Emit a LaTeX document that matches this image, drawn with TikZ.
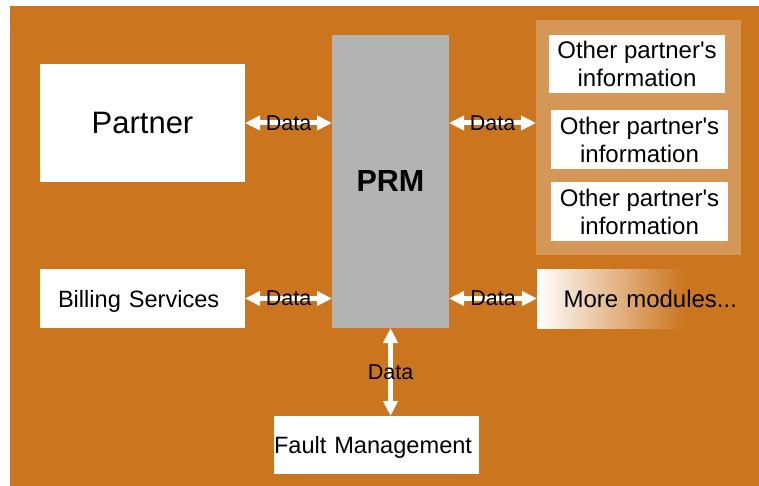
\documentclass[tikz,border=0pt]{standalone}
\usepackage{fontspec}
\setmainfont{Liberation Sans}
\usetikzlibrary{arrows.meta}

\definecolor{bgorange}{RGB}{203,117,31}
\definecolor{panelorange}{RGB}{213,151,88}
\definecolor{prmgrey}{RGB}{179,179,179}

% white-to-orange fade, reaching full orange about 70% of the way across
\pgfdeclarehorizontalshading{modulefade}{100bp}{%
  color(0bp)=(white); color(25bp)=(white); color(61bp)=(bgorange); color(100bp)=(bgorange)}

\tikzset{
  box/.style={fill=white, inner sep=0pt, outer sep=0pt, align=center, text=black},
  dataarrow/.style={draw=white, line width=5pt,
    {Triangle[length=15pt,width=14pt]}-{Triangle[length=15pt,width=14pt]}},
  datalabel/.style={font=\fontsize{21.5}{25}\selectfont, text=black, inner sep=0pt},
  infobox/.style={box, font=\fontsize{24}{28}\selectfont},
}

\newcommand{\otherinfo}{Other partner\textquotesingle s\\information}

\begin{document}
\begin{tikzpicture}[x=1pt, y=-1pt]
  \useasboundingbox (0,0) rectangle (759,486);
  % backdrop
  \fill[bgorange] (10,6) rectangle (759,486);

  % central module
  \node[fill=prmgrey, inner sep=0pt, outer sep=0pt, minimum width=117pt, minimum height=293pt,
        font=\fontsize{30.5}{35}\selectfont\bfseries] (prm) at (390.5,181.5) {PRM};

  % left side
  \node[box, minimum width=205pt, minimum height=118pt, text depth=0pt,
        font=\fontsize{31}{36}\selectfont]
    (partner) at (142.5,123) {Partner};
  \node[box, inner xsep=18pt, text width=169pt, align=left, minimum height=59pt, text depth=0pt,
        font=\fontsize{23.6}{28}\selectfont]
    (billing) at (142.5,298.5) {Billing Services};

  % bottom
  \node[box, text width=205pt, align=left, minimum height=58pt, text depth=0pt,
        font=\fontsize{23.6}{28}\selectfont]
    (fault) at (376.5,445) {Fault Management};

  % right panel with partner information
  \node[fill=panelorange, inner sep=0pt, outer sep=0pt, minimum width=205pt, minimum height=235pt]
    (panel) at (638.5,137.5) {};
  \node[infobox, minimum width=176pt, minimum height=58pt] (other1) at (637,64) {\otherinfo};
  \node[infobox, minimum width=177pt, minimum height=59pt] (other2) at (639.5,139.5) {\otherinfo};
  \node[infobox, minimum width=177pt, minimum height=59pt] (other3) at (639.5,211.5) {\otherinfo};

  % fading module box
  \node[shading=modulefade, inner sep=0pt, inner xsep=4pt, outer sep=0pt, text width=196pt,
        align=right, minimum height=59pt, font=\fontsize{24}{28}\selectfont]
    (more) at (639,298.5) {More modules...};

  % data flows
  \draw[dataarrow] (partner.east) -- (partner.east -| prm.west)
    node[datalabel, midway] {Data};
  \draw[dataarrow] (billing.east) -- (billing.east -| prm.west)
    node[datalabel, midway] {Data};
  \draw[dataarrow] (prm.east |- partner.east) -- (panel.west |- partner.east)
    node[datalabel, midway] {Data};
  \draw[dataarrow] (prm.east |- more.west) -- (more.west)
    node[datalabel, midway] {Data};
  \draw[dataarrow] (prm.south) -- (prm.south |- fault.north)
    node[datalabel, midway] {Data};
\end{tikzpicture}
\end{document}
